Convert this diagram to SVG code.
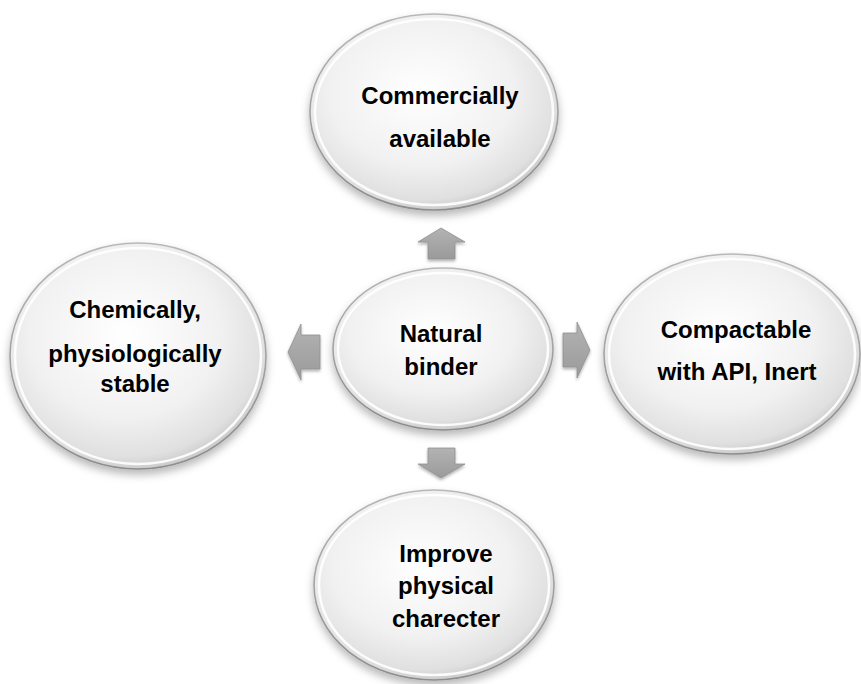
<svg xmlns="http://www.w3.org/2000/svg" width="861" height="684" viewBox="0 0 861 684">
  <defs>
    <radialGradient id="bubble" cx="0.45" cy="0.4" r="0.62">
      <stop offset="0" stop-color="#ffffff"/>
      <stop offset="0.6" stop-color="#f1f1f1"/>
      <stop offset="0.88" stop-color="#e0e0e0"/>
      <stop offset="1" stop-color="#c6c6c6"/>
    </radialGradient>
    <linearGradient id="rim" x1="0" y1="0" x2="0" y2="1">
      <stop offset="0" stop-color="#b8b8b8"/>
      <stop offset="1" stop-color="#8c8c8c"/>
    </linearGradient>
    <linearGradient id="arrowFill" x1="0" y1="0" x2="0" y2="1">
      <stop offset="0" stop-color="#b3b3b3"/>
      <stop offset="1" stop-color="#9a9a9a"/>
    </linearGradient>
    <filter id="shadow" x="-20%" y="-20%" width="140%" height="150%">
      <feDropShadow dx="0" dy="5" stdDeviation="4" flood-color="#000" flood-opacity="0.28"/>
    </filter>
    <filter id="arrowShadow" x="-30%" y="-30%" width="160%" height="170%">
      <feDropShadow dx="0" dy="2" stdDeviation="1.5" flood-color="#000" flood-opacity="0.3"/>
    </filter>
  </defs>
  <style>
    .shell { fill: url(#bubble); stroke: url(#rim); stroke-width: 1.6; filter: url(#shadow); }
    .gloss { fill: none; stroke: #ffffff; stroke-width: 2.5; opacity: 0.9; }
    .label { font-family: "Liberation Sans", Arial, sans-serif; font-weight: bold; font-size: 24px; fill: #000; text-anchor: middle; }
    .arrow { fill: url(#arrowFill); stroke: #8f8f8f; stroke-width: 0.8; filter: url(#arrowShadow); }
  </style>
  <rect width="861" height="684" fill="#ffffff"/>

  <!-- connectors: block arrows pointing out from the centre -->
  <g id="connectors">
    <path class="arrow" d="M441,228 L465,242 L455,242 L455,259 L428,259 L428,242 L418,242 Z"/>
    <path class="arrow" d="M441,478 L465,464 L455,464 L455,448 L428,448 L428,464 L418,464 Z"/>
    <path class="arrow" d="M590,350 L577,322 L577,333 L563,333 L563,367 L577,367 L577,378 Z"/>
    <path class="arrow" d="M288,352 L301,324 L301,335 L320,335 L320,369 L301,369 L301,380 Z"/>
  </g>

  <g id="node-top">
    <ellipse class="shell" cx="434" cy="112" rx="124" ry="98"/>
    <ellipse class="gloss" cx="434" cy="112" rx="119" ry="93"/>
    <text class="label" x="440" y="104">Commercially</text>
    <text class="label" x="440" y="147">available</text>
  </g>

  <g id="node-center">
    <ellipse class="shell" cx="443" cy="349" rx="110" ry="81"/>
    <ellipse class="gloss" cx="443" cy="349" rx="105" ry="76"/>
    <text class="label" x="441" y="342">Natural</text>
    <text class="label" x="441" y="375">binder</text>
  </g>

  <g id="node-left">
    <ellipse class="shell" cx="138" cy="356" rx="128" ry="113"/>
    <ellipse class="gloss" cx="138" cy="356" rx="123" ry="108"/>
    <text class="label" x="135" y="318">Chemically,</text>
    <text class="label" x="135" y="362">physiologically</text>
    <text class="label" x="135" y="392">stable</text>
  </g>

  <g id="node-right">
    <ellipse class="shell" cx="732" cy="354" rx="128" ry="100"/>
    <ellipse class="gloss" cx="732" cy="354" rx="123" ry="95"/>
    <text class="label" x="736" y="338">Compactable</text>
    <text class="label" x="737" y="380">with API, Inert</text>
  </g>

  <g id="node-bottom">
    <ellipse class="shell" cx="434" cy="585" rx="120" ry="95"/>
    <ellipse class="gloss" cx="434" cy="585" rx="115" ry="90"/>
    <text class="label" x="446" y="562">Improve</text>
    <text class="label" x="446" y="594">physical</text>
    <text class="label" x="446" y="627">charecter</text>
  </g>
</svg>
